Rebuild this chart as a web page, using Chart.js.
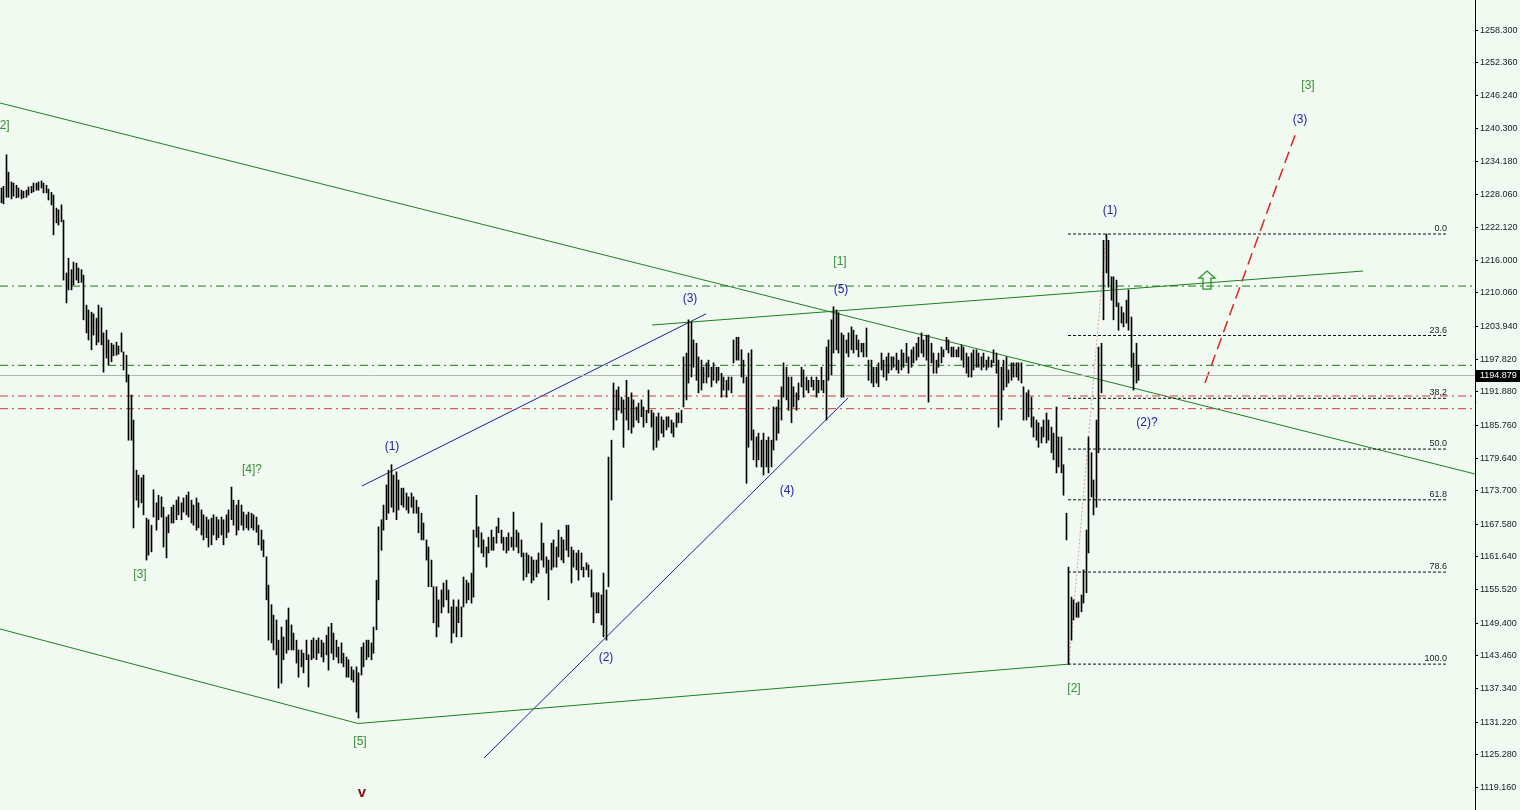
<!DOCTYPE html>
<html>
<head>
<meta charset="utf-8">
<title>Wave count</title>
<script src="https://cdn.jsdelivr.net/npm/chart.js@4.4.1/dist/chart.umd.min.js"></script>
<style>
  html, body { margin: 0; padding: 0; background: #f0faf0; overflow: hidden; }
  #wrap { width: 1520px; height: 810px; position: relative; }
</style>
</head>
<body>
<div id="wrap"><canvas id="chart"></canvas></div>
<script>
// price bars, oldest first
const highs = [
  1229.3,1229.6,1235.4,1232.2,1230.4,1230.2,1229.8,1229.3,1228.9,1228.7,
  1228.9,1229.5,1229.6,1230.2,1230.2,1230.4,1230.6,1230.2,1229.8,1229.1,
  1228.5,1228.0,1225.6,1225.3,1226.2,1223.4,1213.7,1216.4,1214.3,1215.7,
  1215.5,1214.6,1214.3,1213.3,1207.8,1206.9,1206.5,1206.2,1205.4,1207.8,
  1207.3,1202.7,1203.2,1201.4,1200.8,1200.5,1201.0,1200.3,1202.7,1199.2,
  1198.6,1195.0,1191.3,1186.7,1177.5,1176.6,1176.1,1176.6,1168.7,1168.4,
  1167.4,1173.9,1171.5,1172.9,1172.6,1170.7,1168.9,1169.3,1170.7,1171.1,
  1172.0,1172.6,1171.5,1172.4,1172.9,1173.5,1172.0,1171.1,1172.4,1171.5,
  1170.2,1169.3,1168.9,1168.4,1168.7,1169.3,1168.9,1168.4,1168.9,1168.4,
  1169.3,1170.2,1174.4,1172.0,1171.1,1172.0,1171.1,1169.8,1169.3,1169.8,
  1169.6,1169.3,1168.9,1167.4,1166.5,1164.7,1161.6,1156.4,1152.8,1150.9,
  1150.0,1146.3,1148.7,1146.9,1150.0,1152.2,1149.1,1147.6,1146.3,1144.5,
  1144.5,1143.9,1146.3,1143.6,1146.3,1146.7,1146.3,1146.7,1146.3,1145.8,
  1147.2,1148.7,1149.4,1147.6,1146.3,1145.0,1145.8,1143.9,1143.2,1142.7,
  1141.4,1140.8,1141.4,1140.3,1145.0,1145.8,1146.3,1146.3,1145.8,1148.7,
  1157.3,1167.1,1168.4,1171.1,1174.8,1177.5,1178.5,1176.6,1177.2,1175.7,
  1174.2,1174.2,1173.3,1172.6,1173.3,1172.6,1172.0,1170.7,1169.6,1167.8,
  1164.7,1163.4,1161.0,1156.1,1156.1,1153.7,1155.5,1156.8,1157.3,1155.5,
  1152.4,1153.7,1152.4,1153.7,1152.4,1157.9,1157.3,1156.8,1158.6,1166.5,
  1172.9,1167.1,1166.0,1164.7,1163.4,1165.2,1166.5,1165.2,1167.1,1168.7,
  1166.5,1165.2,1165.2,1166.0,1165.2,1169.8,1166.5,1166.0,1164.7,1162.3,
  1162.3,1161.9,1161.6,1161.0,1161.0,1162.3,1167.8,1164.1,1161.6,1161.0,
  1164.1,1164.7,1163.4,1166.5,1165.2,1164.7,1167.4,1167.4,1163.4,1162.8,
  1162.3,1162.8,1162.3,1159.7,1160.5,1160.1,1159.2,1155.0,1155.0,1155.0,
  1154.6,1158.6,1155.5,1179.9,1183.0,1193.5,1192.2,1192.8,1190.9,1190.4,
  1194.0,1190.9,1191.7,1190.4,1189.1,1189.8,1190.4,1189.1,1188.5,1192.2,
  1188.5,1188.0,1187.3,1188.0,1187.3,1186.7,1187.3,1187.3,1186.7,1186.2,
  1188.0,1188.0,1188.5,1198.3,1199.0,1205.1,1204.7,1201.4,1200.8,1198.3,
  1197.7,1196.4,1197.2,1197.7,1196.4,1197.2,1196.4,1196.4,1195.3,1194.6,
  1194.0,1194.6,1194.6,1201.4,1201.9,1201.9,1199.6,1197.7,1194.6,1199.0,
  1199.6,1184.9,1183.6,1184.3,1183.0,1184.3,1183.0,1183.6,1183.0,1189.1,
  1189.1,1190.4,1192.8,1197.2,1196.4,1194.6,1194.6,1192.8,1191.7,1193.5,
  1196.4,1195.9,1194.6,1194.0,1194.6,1194.0,1194.6,1194.0,1196.4,1194.0,
  1200.1,1201.4,1205.1,1207.5,1206.9,1206.4,1202.7,1202.3,1201.4,1202.7,
  1203.8,1203.2,1202.3,1201.4,1200.8,1200.8,1203.6,1197.7,1197.7,1196.4,
  1196.4,1197.2,1199.0,1197.7,1198.3,1199.0,1198.3,1198.3,1199.0,1197.7,
  1199.6,1199.0,1200.8,1198.3,1199.6,1200.1,1200.8,1201.9,1202.7,1201.4,
  1202.3,1202.3,1200.8,1199.0,1197.7,1199.0,1200.1,1199.6,1201.9,1201.4,
  1200.1,1200.1,1199.6,1200.1,1200.5,1200.1,1199.0,1198.3,1199.0,1199.6,
  1199.6,1199.0,1198.3,1199.0,1197.7,1198.3,1197.7,1199.6,1199.0,1197.7,
  1196.4,1197.7,1198.3,1195.9,1197.2,1197.2,1197.2,1197.2,1197.2,1192.8,
  1191.7,1192.2,1190.9,1187.3,1186.7,1186.2,1185.4,1186.7,1188.0,1186.7,
  1185.4,1184.3,1189.1,1183.6,1183.6,1178.5,1169.6,1159.7,1154.2,1153.7,
  1153.1,1153.3,1154.6,1159.2,1166.5,1183.6,1180.7,1175.7,1186.7,1200.1,
  1200.8,1219.7,1220.85,1219.7,1213.0,1213.0,1212.4,1208.2,1207.5,1206.4,
  1208.7,1210.6,1205.6,1199.0,1200.8,1196.8
];
const lows = [
  1226.6,1226.4,1227.6,1227.6,1227.3,1227.8,1227.5,1227.6,1227.3,1227.5,
  1227.6,1228.0,1228.4,1228.6,1228.9,1228.9,1229.3,1228.4,1228.4,1227.1,
  1226.2,1220.7,1222.9,1222.5,1223.1,1212.4,1208.2,1210.6,1210.6,1211.5,
  1212.4,1211.9,1212.0,1205.1,1202.7,1201.4,1199.6,1202.3,1200.5,1201.0,
  1200.5,1195.5,1198.1,1196.8,1197.4,1198.5,1198.6,1198.8,1199.2,1195.9,
  1193.7,1183.0,1183.0,1166.9,1172.0,1170.7,1171.5,1169.3,1161.0,1161.9,
  1162.5,1168.9,1166.5,1168.4,1168.9,1163.4,1161.4,1166.0,1167.8,1167.8,
  1168.4,1169.3,1168.4,1169.8,1169.3,1168.9,1167.8,1167.4,1166.5,1166.9,
  1165.6,1164.7,1165.1,1163.4,1163.8,1165.6,1164.7,1165.1,1165.6,1163.8,
  1165.1,1166.1,1168.4,1167.4,1165.6,1166.5,1167.4,1166.5,1166.9,1166.5,
  1166.9,1166.5,1166.1,1163.8,1162.8,1161.6,1153.7,1146.3,1145.8,1144.5,
  1143.6,1137.5,1138.4,1142.7,1143.9,1144.5,1144.5,1144.5,1142.1,1139.5,
  1141.4,1140.3,1142.7,1137.7,1142.7,1143.0,1142.7,1143.9,1143.2,1142.3,
  1143.6,1140.8,1143.9,1142.7,1143.2,1142.1,1142.1,1141.4,1139.5,1139.5,
  1139.0,1138.6,1133.1,1132.0,1139.9,1141.4,1142.7,1143.2,1142.7,1143.9,
  1148.2,1153.7,1162.8,1166.5,1168.4,1169.6,1170.7,1169.8,1168.4,1170.2,
  1171.1,1170.7,1170.2,1169.6,1170.7,1169.6,1169.6,1166.0,1164.7,1164.7,
  1161.0,1156.1,1156.1,1149.5,1146.9,1148.7,1151.3,1152.4,1153.7,1151.3,
  1145.8,1147.6,1146.9,1149.5,1146.9,1152.4,1153.1,1153.7,1153.1,1154.2,
  1165.2,1163.4,1162.3,1161.6,1159.7,1162.3,1162.8,1162.8,1164.1,1166.0,
  1164.1,1162.8,1162.3,1162.8,1163.4,1162.8,1163.4,1162.3,1161.6,1157.3,
  1157.9,1158.6,1156.8,1157.3,1157.9,1158.6,1161.0,1159.7,1158.6,1153.7,
  1159.2,1159.7,1159.7,1161.6,1161.0,1160.5,1162.8,1161.6,1156.8,1159.7,
  1159.2,1157.3,1159.2,1157.9,1159.2,1157.9,1154.2,1149.5,1151.3,1151.3,
  1149.1,1146.9,1146.3,1156.1,1172.0,1184.9,1186.7,1188.5,1188.0,1181.7,
  1186.7,1184.9,1184.3,1185.4,1186.7,1186.2,1187.3,1185.4,1186.2,1188.0,
  1185.4,1181.2,1181.7,1183.0,1184.3,1183.6,1184.9,1185.4,1184.3,1183.6,
  1185.4,1186.2,1186.2,1189.1,1190.4,1193.5,1194.6,1196.4,1194.0,1191.7,
  1192.2,1193.5,1193.5,1194.6,1192.8,1194.0,1193.5,1194.0,1190.9,1192.2,
  1190.9,1192.2,1191.7,1197.2,1197.7,1197.7,1194.6,1193.5,1175.1,1181.7,
  1183.0,1179.4,1178.1,1179.4,1178.1,1176.6,1178.1,1177.0,1178.1,1181.2,
  1183.0,1184.3,1186.7,1190.9,1190.4,1188.5,1186.2,1189.1,1188.5,1190.4,
  1192.8,1190.9,1192.2,1191.7,1192.8,1192.2,1190.9,1191.7,1192.2,1191.7,
  1186.7,1194.0,1195.0,1199.0,1199.6,1199.0,1190.9,1190.9,1199.0,1198.3,
  1199.6,1199.0,1199.6,1198.3,1199.2,1198.3,1198.3,1194.0,1193.5,1192.8,
  1193.5,1192.8,1195.9,1194.6,1194.0,1195.3,1195.9,1196.4,1195.9,1195.3,
  1195.9,1196.4,1197.2,1195.3,1196.4,1197.2,1197.7,1198.3,1199.0,1198.3,
  1197.7,1190.0,1197.2,1195.3,1195.3,1196.4,1197.2,1198.3,1199.6,1199.0,
  1198.3,1198.3,1198.3,1198.3,1197.7,1196.4,1195.3,1194.6,1194.6,1195.9,
  1196.4,1196.4,1195.9,1196.4,1195.9,1196.4,1196.4,1197.2,1195.3,1185.4,
  1186.7,1192.2,1192.8,1193.5,1194.0,1194.6,1194.6,1194.0,1193.5,1186.7,
  1186.7,1187.3,1185.4,1183.6,1183.0,1181.7,1182.5,1183.6,1182.5,1183.0,
  1180.7,1179.4,1177.0,1178.1,1177.0,1172.9,1164.7,1141.9,1146.3,1150.0,
  1150.5,1150.5,1151.5,1153.1,1155.0,1162.3,1172.6,1169.3,1170.7,1180.7,
  1191.7,1205.1,1213.7,1211.1,1208.7,1205.1,1207.5,1203.2,1204.5,1203.8,
  1204.5,1203.2,1196.4,1192.2,1193.5,1194.0
];
const lastPrice = 1194.879;

// price axis
const priceTicks = [1258.3, 1252.36, 1246.24, 1240.3, 1234.18, 1228.06, 1222.12, 1216.0,
  1210.06, 1203.94, 1197.82, 1191.88, 1185.76, 1179.64, 1173.7, 1167.58, 1161.64,
  1155.52, 1149.4, 1143.46, 1137.34, 1131.22, 1125.28, 1119.16];
const priceMin = 1115.12;
const priceMax = 1263.81;
const barSlots = 590;

// fibo retracement from [2] low to (1) high
const fibLow = 1141.9;
const fibHigh = 1220.85;
const fibLevels = [0, 23.6, 38.2, 50, 61.8, 78.6, 100];
const fibStart = 427.2;
const fibEnd = 578.8;

// horizontal levels
const greenLevels = [1211.3, 1196.75];
const redLevels = [1191.12, 1188.79];

// trend lines as [x1, price1, x2, price2]
const greenLines = [
  [0, 1244.9, 590, 1176.8],
  [0, 1148.35, 143.2, 1131.0],
  [143.2, 1131.0, 427.6, 1141.9],
  [260.8, 1204.15, 545.2, 1214.06]
];
const blueLines = [
  [144.8, 1174.6, 282.4, 1206.2],
  [193.6, 1124.67, 339.2, 1190.75]
];
const targetLine = [482, 1193.5, 518, 1239.0];
const fibDiagonal = [427.6, 1141.9, 442.4, 1220.85];

// wave labels
const labelTexts = ["[2]", "[3]", "[4]?", "[5]", "v", "(1)", "(2)", "(3)", "(4)", "(5)", "[1]", "[2]", "(1)", "(2)?", "(3)", "[3]"];
const labelX = [1.2, 56, 100.8, 144, 144.8, 156.8, 242.4, 276, 314.8, 336.4, 336, 429.6, 444, 458.8, 520, 523.2];
const labelY = [1240.7, 1158.3, 1177.5, 1127.6, 1118.2, 1181.9, 1143.0, 1208.9, 1173.7, 1210.6, 1215.7, 1137.3, 1225.1, 1186.3, 1241.8, 1248.0];
const labelKind = ["g", "g", "g", "g", "r", "b", "b", "b", "b", "b", "g", "g", "b", "b", "b", "g"];
const arrowAt = [482.8, 1212.4];

const colors = { g: '#3a8f3a', b: '#2424a8', r: '#8b0f0f' };
const FONT = '"Liberation Sans", Arial, sans-serif';

function seg(l) {
  return [{ x: l[0], y: l[1] }, { x: l[2], y: l[3] }];
}
function lineSet(points, color, dash, width) {
  return {
    type: 'line', data: points, borderColor: color, borderWidth: width || 1,
    borderDash: dash || [], pointRadius: 0, fill: false, tension: 0, order: 1
  };
}

const datasets = [];
datasets.push({
  type: 'bar',
  data: highs.map((h, i) => ({ x: i + 0.5, y: [lows[i], h] })),
  backgroundColor: '#000',
  borderWidth: 0,
  barThickness: 1,
  grouped: false,
  order: 0
});
datasets.push(lineSet(seg([0, lastPrice, barSlots, lastPrice]), '#b4b4b4'));
greenLevels.forEach(p => datasets.push(lineSet(seg([0, p, barSlots, p]), '#1a7a1a', [8, 4, 2, 4])));
redLevels.forEach(p => datasets.push(lineSet(seg([0, p, barSlots, p]), '#d23c3c', [8, 4, 2, 4])));
fibLevels.forEach(l => {
  const p = fibHigh - l / 100 * (fibHigh - fibLow);
  datasets.push(lineSet(seg([fibStart, p, fibEnd, p]), '#111', [3, 2]));
});
datasets.push(lineSet(seg(fibDiagonal), '#d9a0a0', [2, 2]));
greenLines.forEach(l => datasets.push(lineSet(seg(l), '#1f7f1f')));
blueLines.forEach(l => datasets.push(lineSet(seg(l), '#1e1ea0')));
datasets.push(lineSet(seg(targetLine), '#e02424', [12, 6], 1.5));

// keep the 1px bars on whole pixels
const snapBars = {
  id: 'snapBars',
  afterDatasetUpdate(chart, args) {
    if (args.index !== 0) return;
    args.meta.data.forEach(el => { el.x = Math.round(el.x - 0.5) + 0.5; });
  }
};

const overlay = {
  id: 'overlay',
  afterDatasetsDraw(chart) {
    const { ctx, scales: { x, y } } = chart;
    ctx.save();
    // fibo level captions
    ctx.font = '9px ' + FONT;
    ctx.fillStyle = '#222';
    ctx.textAlign = 'right';
    ctx.textBaseline = 'bottom';
    fibLevels.forEach(l => {
      const p = fibHigh - l / 100 * (fibHigh - fibLow);
      ctx.fillText(l.toFixed(1), x.getPixelForValue(fibEnd), y.getPixelForValue(p) - 1);
    });
    // wave labels
    ctx.textAlign = 'center';
    ctx.textBaseline = 'middle';
    labelTexts.forEach((t, i) => {
      ctx.font = (labelKind[i] === 'r' ? 'bold 15px ' : '12px ') + FONT;
      ctx.fillStyle = colors[labelKind[i]];
      ctx.fillText(t, x.getPixelForValue(labelX[i]), y.getPixelForValue(labelY[i]));
    });
    // hollow up arrow
    const ax = x.getPixelForValue(arrowAt[0]), ay = y.getPixelForValue(arrowAt[1]);
    ctx.strokeStyle = '#2a962a';
    ctx.lineWidth = 1.3;
    ctx.beginPath();
    ctx.moveTo(ax, ay - 9);
    ctx.lineTo(ax + 8, ay - 2);
    ctx.lineTo(ax + 4, ay - 2);
    ctx.lineTo(ax + 4, ay + 9);
    ctx.lineTo(ax - 4, ay + 9);
    ctx.lineTo(ax - 4, ay - 2);
    ctx.lineTo(ax - 8, ay - 2);
    ctx.closePath();
    ctx.stroke();
    ctx.restore();
  },
  afterDraw(chart) {
    const { ctx, chartArea, scales: { y } } = chart;
    const py = Math.round(y.getPixelForValue(lastPrice));
    ctx.save();
    ctx.fillStyle = '#000';
    ctx.fillRect(chartArea.right + 1, py - 6, 45, 12);
    ctx.fillStyle = '#fff';
    ctx.font = '9px ' + FONT;
    ctx.textAlign = 'left';
    ctx.textBaseline = 'middle';
    ctx.fillText(lastPrice.toFixed(3), chartArea.right + 5, py);
    ctx.restore();
  }
};

new Chart(document.getElementById('chart'), {
  type: 'bar',
  data: { datasets },
  options: {
    responsive: true,
    maintainAspectRatio: false,
    animation: false,
    devicePixelRatio: 1,
    events: [],
    layout: { padding: 0 },
    plugins: { legend: { display: false }, tooltip: { enabled: false } },
    scales: {
      x: { type: 'linear', min: 0, max: barSlots, offset: false, display: false },
      y: {
        type: 'linear',
        position: 'right',
        min: priceMin,
        max: priceMax,
        afterBuildTicks: s => { s.ticks = priceTicks.map(v => ({ value: v })); },
        afterFit: s => { s.width = 45; s.paddingTop = 0; s.paddingBottom = 0; },
        ticks: {
          autoSkip: false,
          padding: 2,
          color: '#1a1a1a',
          font: { family: 'Liberation Sans', size: 9 },
          callback: v => Number(v).toFixed(3)
        },
        grid: { drawOnChartArea: false, drawTicks: true, tickLength: 3, tickColor: '#000' },
        border: { display: true, color: '#000', width: 1 }
      }
    }
  },
  plugins: [snapBars, overlay]
});
</script>
</body>
</html>
